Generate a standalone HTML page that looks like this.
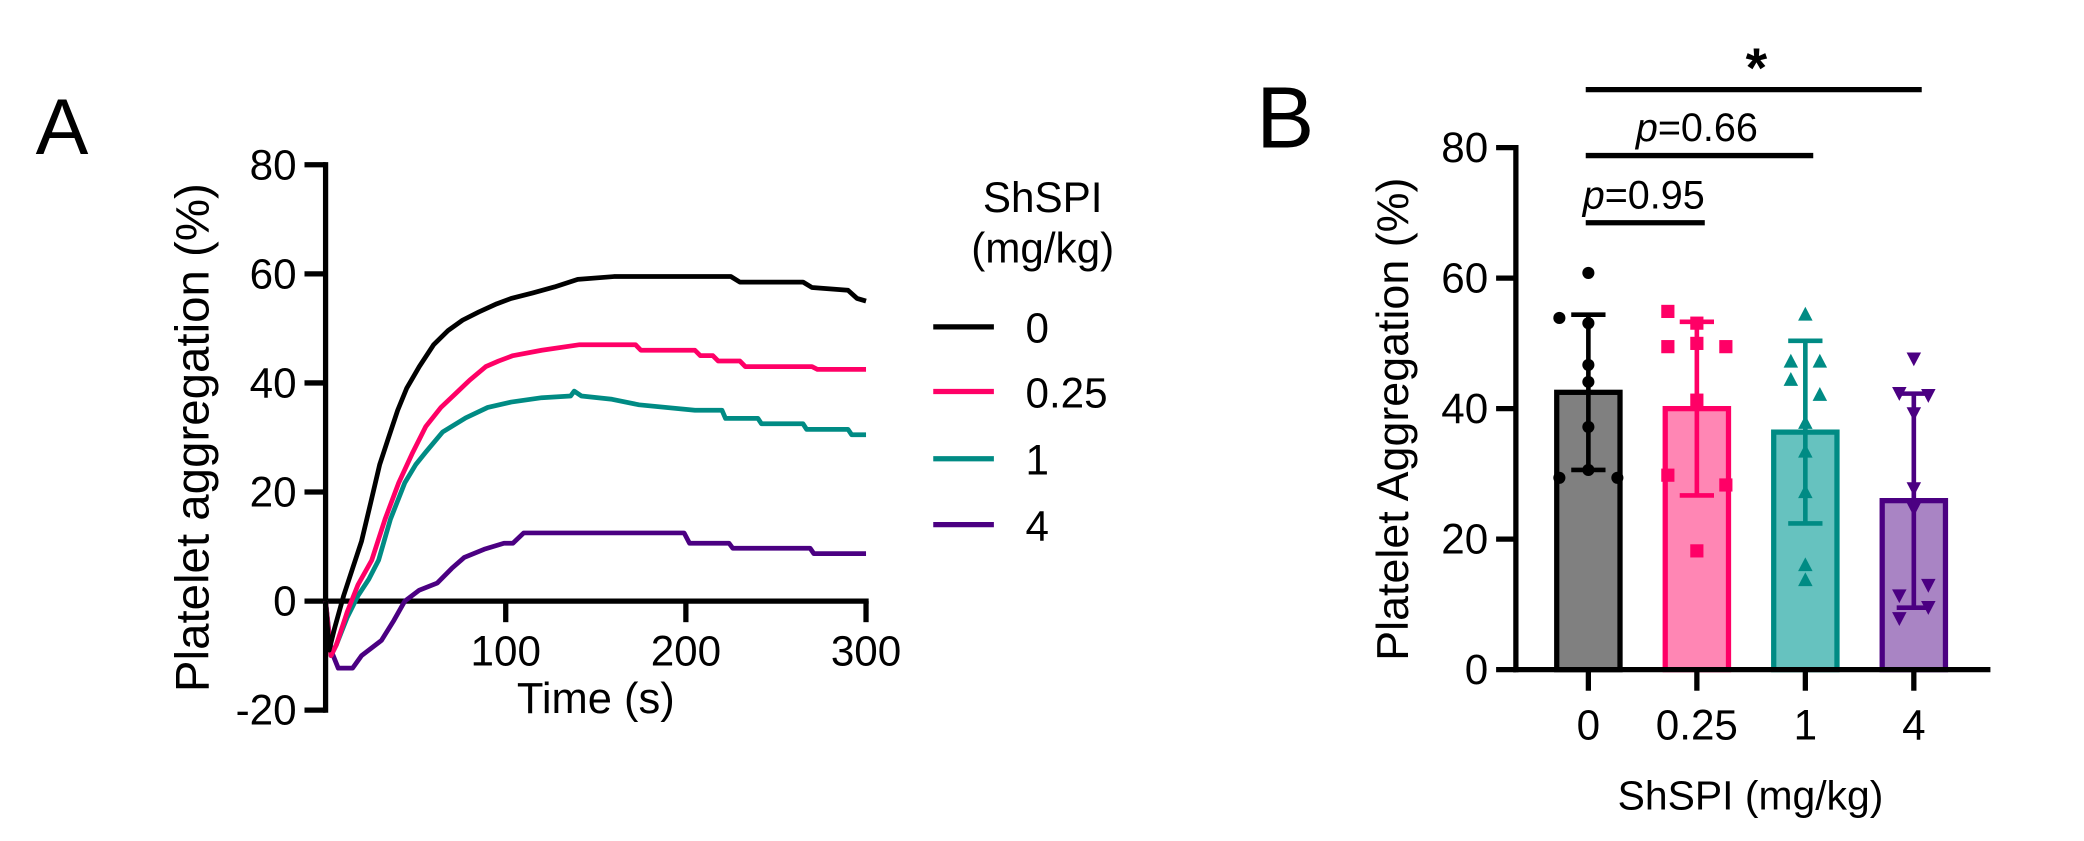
<!DOCTYPE html>
<html><head><meta charset="utf-8"><style>
html,body{margin:0;padding:0;background:#fff;}
svg{display:block;font-family:"Liberation Sans",Arial,sans-serif;}
</style></head><body>
<svg id="fig" width="2084" height="841" viewBox="0 0 1581 638" xmlns="http://www.w3.org/2000/svg">
<rect x="0" y="0" width="1581" height="638" fill="#fff"/>
<text x="27" y="117" font-size="60">A</text>
<text x="953" y="112" font-size="66">B</text>
<g id="pa"></g>
<g id="pb"></g>
</svg>
<script>
// ---------- Panel A data ----------
const aYTicks = [80, 60, 40, 20, 0, -20];
const aXTicks = [100, 200, 300];
const seriesNames = ["0", "0.25", "1", "4"];
const seriesColors = ["#000000", "#ff0066", "#008b84", "#4b0082"];
const tBlack = [0,2,5,10,15,20,25,30,35,40,45,52,60,68,76,85,95,103,115,127,140,160,225,230,265,270,290,295,300];
const vBlack = [0,-9,-5,1,6,11,18,25,30,35,39,43,47,49.6,51.5,53,54.5,55.5,56.5,57.6,59,59.5,59.5,58.5,58.5,57.5,57,55.5,55];
const tPink = [0,3,6,12,18,25.6,33,40.6,48,55.6,64,72,80,89,96,104,120,141,172,175,205,208,215,218,230,233,270,273,300];
const vPink = [0,-10,-8,-2,3,7.5,15,21.7,27,32,35.5,38,40.5,43,44,45,46,47,47,46,46,45,45,44,44,43,43,42.5,42.5];
const tTeal = [0,3,6,12,18,24,29.4,36,44,50,55.6,65,77.8,90,103,120,136,138,142,159,174,205,220,222,240,242,265,267,290,292,300];
const vTeal = [0,-10,-8,-3,1,4,7.5,15,21.7,25,27.3,31,33.6,35.5,36.5,37.3,37.6,38.5,37.6,37,36,35,35,33.5,33.5,32.5,32.5,31.5,31.5,30.5,30.5];
const tPurple = [0,3,7,15,20,31,38,44,52,62,70,77,88,99,104,110,199,202,224,226,269,271,302];
const vPurple = [0,-9,-12.3,-12.3,-10,-7.2,-3.5,0,2,3.3,6,8,9.5,10.6,10.6,12.5,12.5,10.6,10.6,9.7,9.7,8.7,8.7];

// ---------- Panel B data ----------
const bCategories = ["0", "0.25", "1", "4"];
const bMeans = [42.5, 40.0, 36.4, 25.9];
const bSD = [11.9, 13.3, 14.0, 16.4];
const bYTicks = [80, 60, 40, 20, 0];
const bPts0 = [60.8,53.9,53.1,46.7,44.1,37.2,29.4,30.6,29.4];
const bOff0 = [0,-1,0,0,0,0,-1,0,1];
const bPts1 = [54.9,53.1,49.5,50.0,49.5,41.3,29.8,28.3,18.2];
const bOff1 = [-1,0,-1,0,1,0,-1,1,0];
const bPts2 = [54.4,47.2,47.2,44.4,42.1,37.8,33.4,27.2,16.0,13.7];
const bOff2 = [0,-0.5,0.5,-0.5,0.5,0,0,0,0,0];
const bPts3 = [47.7,42.4,42.1,39.3,27.8,24.7,13.0,9.6,11.4,7.9];
const bOff3 = [0,-0.5,0.5,0,0,0,0.5,0.5,-0.5,-0.5];
const bFill = ["#808080", "#ff86b4", "#66c2bf", "#a984c4"];
const bStroke = ["#000000", "#ff0066", "#008b84", "#4b0082"];
const bMarker = ["circle", "square", "triangle", "invtriangle"];
const sigLabels = ["p=0.95", "p=0.66", "*"];

const NS = "http://www.w3.org/2000/svg";
function mk(tag, attrs, parent) {
  const e = document.createElementNS(NS, tag);
  for (const k in attrs) e.setAttribute(k, attrs[k]);
  parent.appendChild(e);
  return e;
}

// ----- Panel A -----
const pa = document.getElementById("pa");
const ax0 = 247, ax1 = 657;
function ax(t) { return ax0 + t * (ax1 - ax0) / 300; }
function ay(v) { return 456 - v * (456 - 125) / 80; }

const aYAxis = mk("line", {x1: ax0, y1: ay(80) - 2, x2: ax0, y2: ay(-20) + 2, stroke: "#000", "stroke-width": 4}, pa);


const aXAxis = mk("line", {x1: ax0, y1: ay(0), x2: ax(300) + 2, y2: ay(0), stroke: "#000", "stroke-width": 4}, pa);


aYTicks.forEach(v => {
  const tk = mk("line", {x1: ax0 - 16, y1: ay(v), x2: ax0, y2: ay(v), stroke: "#000", "stroke-width": 4}, pa);
  
  
  const lb = mk("text", {x: ax0 - 22, y: ay(v) + 11, "font-size": 32, "text-anchor": "end"}, pa);
  lb.textContent = String(v);
  
  
});
aXTicks.forEach(t => {
  const tk = mk("line", {x1: ax(t), y1: ay(0), x2: ax(t), y2: ay(0) + 16, stroke: "#000", "stroke-width": 4}, pa);
  
  
  const lb = mk("text", {x: ax(t), y: 505, "font-size": 32, "text-anchor": "middle"}, pa);
  lb.textContent = String(t);
  
  
});
const aXT = mk("text", {x: 452, y: 541, "font-size": 33, "text-anchor": "middle"}, pa);
aXT.textContent = "Time (s)";


const aYT = mk("text", {x: 0, y: 0, "font-size": 36, "text-anchor": "middle", transform: "translate(158,332) rotate(-90)"}, pa);
aYT.textContent = "Platelet aggregation (%)";



const allT = [tBlack, tPink, tTeal, tPurple];
const allV = [vBlack, vPink, vTeal, vPurple];
for (let s = 3; s >= 0; s--) {
  const pts = allT[s].map((t, i) => ax(Math.min(t, 300)).toFixed(1) + "," + ay(allV[s][i]).toFixed(1)).join(" ");
  const pl = mk("polyline", {points: pts, fill: "none", stroke: seriesColors[s], "stroke-width": 3.6, "stroke-linejoin": "round"}, pa);
  
  
}
// legend
const lgT1 = mk("text", {x: 791, y: 161, "font-size": 32, "text-anchor": "middle"}, pa);
lgT1.textContent = "ShSPI";


const lgT2 = mk("text", {x: 791, y: 199, "font-size": 32, "text-anchor": "middle"}, pa);
lgT2.textContent = "(mg/kg)";


const legY = [248, 297, 348, 398];
seriesNames.forEach((n, i) => {
  const ln = mk("line", {x1: 708, y1: legY[i], x2: 754, y2: legY[i], stroke: seriesColors[i], "stroke-width": 4}, pa);
  
  
  const tx = mk("text", {x: 778, y: legY[i] + 12, "font-size": 32}, pa);
  tx.textContent = n;
  
  
});

// ----- Panel B -----
const pb = document.getElementById("pb");
const bx0 = 1150, bxEnd = 1510;
const bCenters0 = 1205, bStep = 82.3;
function bx(i) { return bCenters0 + i * bStep; }
function by(v) { return 508 - v * (508 - 112) / 80; }
const OFF = 22;

const bYAxis = mk("line", {x1: bx0, y1: by(80) - 2, x2: bx0, y2: by(0) + 2, stroke: "#000", "stroke-width": 4}, pb);


bYTicks.forEach(v => {
  const tk = mk("line", {x1: bx0 - 15, y1: by(v), x2: bx0, y2: by(v), stroke: "#000", "stroke-width": 4}, pb);
  
  
  const lb = mk("text", {x: bx0 - 21, y: by(v) + 11, "font-size": 32, "text-anchor": "end"}, pb);
  lb.textContent = String(v);
  
  
});
const bYT = mk("text", {x: 0, y: 0, "font-size": 34, "text-anchor": "middle", transform: "translate(1068,318) rotate(-90)"}, pb);
bYT.textContent = "Platelet Aggregation (%)";



const allPts = [bPts0, bPts1, bPts2, bPts3];
const allOff = [bOff0, bOff1, bOff2, bOff3];
bCategories.forEach((c, i) => {
  const cx = bx(i);
  const bar = mk("rect", {x: cx - 24, y: by(bMeans[i]), width: 48, height: by(0) - by(bMeans[i]), fill: bFill[i], stroke: bStroke[i], "stroke-width": 4}, pb);
  
  
});
const bXAxis = mk("line", {x1: bx0 - 2, y1: by(0), x2: bxEnd, y2: by(0), stroke: "#000", "stroke-width": 4}, pb);


bCategories.forEach((c, i) => {
  const cx = bx(i);
  const g = mk("g", {}, pb);
  
  
  allPts[i].forEach((v, j) => {
    const px = cx + allOff[i][j] * OFF, py = by(v);
    let m;
    if (bMarker[i] === "circle") m = mk("circle", {cx: px, cy: py, r: 4.6, fill: bStroke[i]}, g);
    else if (bMarker[i] === "square") m = mk("rect", {x: px - 5, y: py - 5, width: 10, height: 10, fill: bStroke[i]}, g);
    else if (bMarker[i] === "triangle") m = mk("polygon", {points: `${px},${py-6} ${px-5.5},${py+4.5} ${px+5.5},${py+4.5}`, fill: bStroke[i]}, g);
    else m = mk("polygon", {points: `${px},${py+6} ${px-5.5},${py-4.5} ${px+5.5},${py-4.5}`, fill: bStroke[i]}, g);
    
    
  });
  const hi = by(bMeans[i] + bSD[i]), lo = by(bMeans[i] - bSD[i]);
  const eb = mk("path", {d: `M${cx},${hi} V${lo} M${cx-13},${hi} H${cx+13} M${cx-13},${lo} H${cx+13}`, stroke: bStroke[i], "stroke-width": 3.5, fill: "none"}, pb);
  
  
  const tk = mk("line", {x1: cx, y1: by(0), x2: cx, y2: by(0) + 16, stroke: "#000", "stroke-width": 4}, pb);
  
  
  const lb = mk("text", {x: cx, y: 561, "font-size": 32, "text-anchor": "middle"}, pb);
  lb.textContent = c;
  
  
});
const bXT = mk("text", {x: 1328, y: 614, "font-size": 31, "text-anchor": "middle"}, pb);
bXT.textContent = "ShSPI (mg/kg)";



// significance brackets
const sigEnd = [1, 2, 3];
const sigY = [169, 118, 68];
sigEnd.forEach((e, k) => {
  const ln = mk("line", {x1: bx(0) - 2, y1: sigY[k], x2: bx(e) + 6, y2: sigY[k], stroke: "#000", "stroke-width": 4}, pb);
  
  
  const midx = (bx(0) + bx(e)) / 2;
  let t;
  if (sigLabels[k] === "*") {
    t = mk("text", {x: midx + 4, y: sigY[k] - 2, "font-size": 42, "font-weight": "bold", "text-anchor": "middle"}, pb);
    t.textContent = "*";
  } else {
    t = mk("text", {x: k === 0 ? bx(0) + 42 : midx, y: sigY[k] - 11, "font-size": 30, "text-anchor": "middle"}, pb);
    const ti = mk("tspan", {"font-style": "italic"}, t);
    ti.textContent = "p";
    const tr = mk("tspan", {}, t);
    tr.textContent = sigLabels[k].slice(1);
  }
  
  
});
</script>
</body></html>
